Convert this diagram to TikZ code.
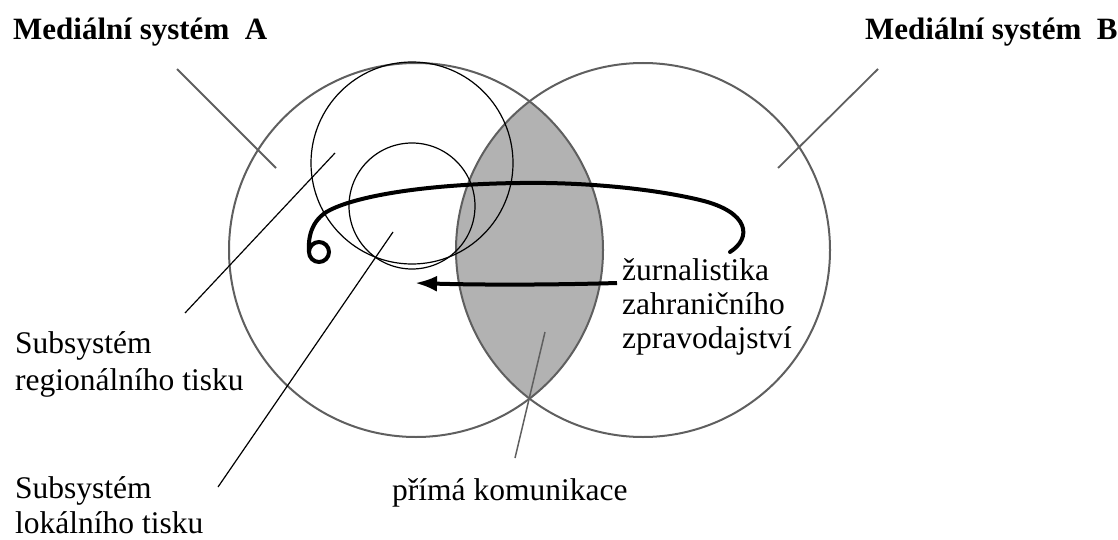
\documentclass[tikz,border=0pt]{standalone}
\usepackage{fontspec}
\setmainfont{Liberation Serif}
\usetikzlibrary{arrows.meta}
\definecolor{lensgray}{RGB}{178,178,178}
\definecolor{ringgray}{RGB}{95,95,95}
\tikzset{
  sysring/.style={draw=ringgray, line width=2pt},
  subring/.style={draw=black, line width=1.2pt},
  leadgray/.style={draw=ringgray, line width=1.8pt},
  leadblack/.style={draw=black, line width=1.2pt},
  thickpath/.style={draw=black, line width=4pt},
  lbl/.style={inner sep=0pt, anchor=base west, align=left, font=\fontsize{31.5}{36.5}\selectfont},
  ttl/.style={inner sep=0pt, anchor=base west, font=\fontsize{31}{35}\selectfont\bfseries},
}
\begin{document}
\begin{tikzpicture}[x=1pt, y=-1pt]
\useasboundingbox (0,0) rectangle (1118,540);
% circle centres
\coordinate (cA) at (416,250);
\coordinate (cB) at (643,250);
\coordinate (cR) at (412,163);
\coordinate (cL) at (412,206);
% lens
\begin{scope}
  \clip (cA) circle[radius=187];
  \fill[lensgray] (cB) circle[radius=187];
\end{scope}
\draw[sysring] (cA) circle[radius=187];
\draw[sysring] (cB) circle[radius=187];
\draw[subring] (cR) circle[radius=101];
\draw[subring] (cL) circle[radius=63];
% spiral path
\coordinate (sEnd) at (730,252);
\coordinate (sLoop) at (309,252);
\draw[thickpath, line cap=round] (sEnd) .. controls (752,238) and (750,212) .. (700,200)
  .. controls (650,188) and (580,182) .. (520,183)
  .. controls (430,184) and (360,195) .. (330,210)
  .. controls (310,220) and (308,240) .. (sLoop)
  arc[start angle=180, end angle=-180, radius=10];
% texts (base anchor = baseline of the last line)
\node[ttl] (tA) at (13,40) {Mediální systém\ \ A};
\node[ttl] (tB) at (865,40) {Mediální systém\ \ B};
\node[lbl, font=\fontsize{31.5}{34}\selectfont] (zur) at (622,348) {žurnalistika\\zahraničního\\zpravodajství};
\node[lbl] (reg) at (15,390) {Subsystém\\regionálního tisku};
\node[lbl, font=\fontsize{31.5}{35}\selectfont] (lok) at (15,533) {Subsystém\\lokálního tisku};
\node[lbl] (pk) at (392,500) {přímá komunikace};
% arrow
\coordinate (arrStart) at (617,283);
\coordinate (arrTip) at (415,283);
\draw[thickpath, -{Latex[length=22pt, width=16pt]}] (arrStart) .. controls (550,285) and (480,285) .. (arrTip);
% leader lines
\coordinate (lA1) at (177,69);  \coordinate (lA2) at (276,168);
\coordinate (lB1) at (878,69);  \coordinate (lB2) at (778,168);
\coordinate (lR1) at (185,313); \coordinate (lR2) at (335,153);
\coordinate (lL1) at (218,487); \coordinate (lL2) at (393,232);
\coordinate (lP1) at (515,458); \coordinate (lP2) at (545,332);
\draw[leadgray] (lA1) -- (lA2);
\draw[leadgray] (lB1) -- (lB2);
\draw[leadblack] (lR1) -- (lR2);
\draw[leadblack] (lL1) -- (lL2);
\draw[leadgray, line width=1.5pt] (lP1) -- (lP2);
\end{tikzpicture}
\end{document}
